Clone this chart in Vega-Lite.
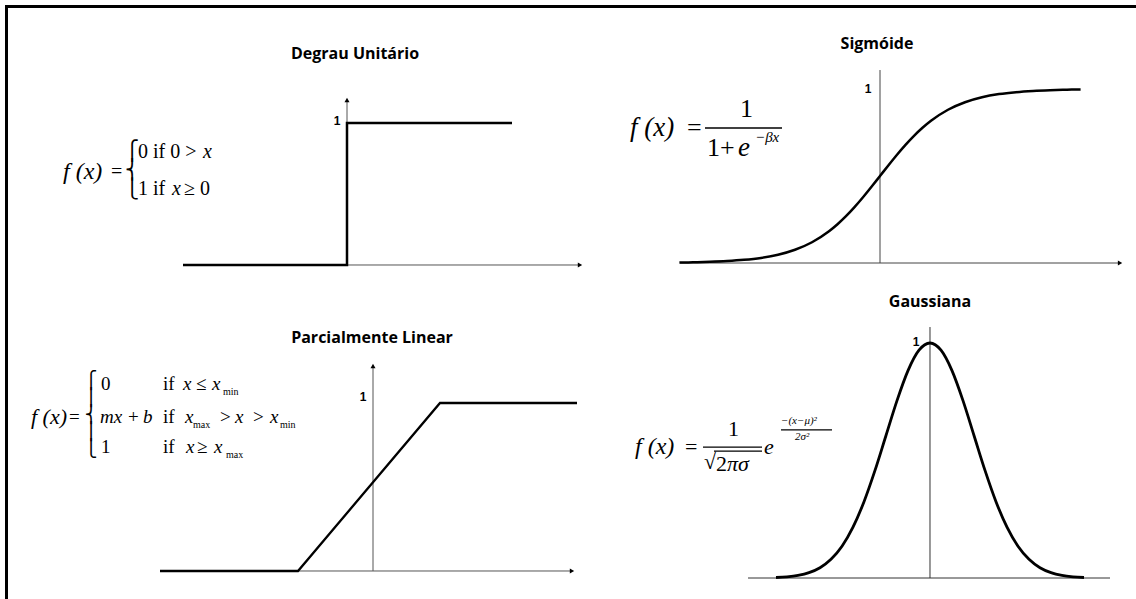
{
  "$schema": "https://vega.github.io/schema/vega-lite/v6.json",
  "padding": 0,
  "spacing": 0,
  "background": "white",
  "config": {"view": {"stroke": null}, "concat": {"spacing": 0}},
  "vconcat": [
    {
      "spacing": 0,
      "hconcat": [
        {
          "width": 600, "height": 290,
          "encoding": {
            "x": {"field": "x", "type": "quantitative", "scale": {"domain": [-6.94, 5.06], "nice": false, "zero": false}, "axis": null},
            "y": {"field": "y", "type": "quantitative", "scale": {"domain": [-0.17606, 1.8662], "nice": false, "zero": false}, "axis": null}
          },
          "layer": [
            {"data": {"values": [{"x": -6.84, "y": 1.82, "x2": 5.4, "y2": 1.82}, {"x": -6.81, "y": 1.831, "x2": -6.81, "y2": -0.4}]},
             "mark": {"type": "rule", "strokeWidth": 3, "color": "black", "clip": true}, "encoding": {"x2": {"field": "x2"}, "y2": {"field": "y2"}}},
            {"data": {"values": [{"x": -3.28, "y": 0, "x2": 4.66, "y2": 0}, {"x": 0, "y": 0, "x2": 0, "y2": 1.162}]},
             "mark": {"type": "rule", "strokeWidth": 1, "color": "#555"}, "encoding": {"x2": {"field": "x2"}, "y2": {"field": "y2"}}},
            {"data": {"values": [{"x": 4.66, "y": 0, "dir": "right"}, {"x": 0, "y": 1.162, "dir": "up"}]},
             "mark": {"type": "point", "filled": true, "color": "black", "size": 25, "opacity": 1},
             "encoding": {"shape": {"field": "dir", "type": "nominal", "scale": {"domain": ["right", "up"], "range": ["triangle-right", "triangle-up"]}, "legend": null}}},
            {"data": {"values": [{"i": 1, "x": -3.28, "y": 0}, {"i": 2, "x": 0, "y": 0}, {"i": 3, "x": 0, "y": 1}, {"i": 4, "x": 3.3, "y": 1}]},
             "mark": {"type": "line", "strokeWidth": 2.5, "color": "black", "strokeJoin": "miter"}, "encoding": {"order": {"field": "i"}}},
            {"data": {"values": [{"x": 0.16, "y": 1.486, "t": "Degrau Unitário"}]},
             "mark": {"type": "text", "font": "Open Sans", "fontWeight": "bold", "fontSize": 16, "align": "center", "baseline": "middle", "color": "black"}, "encoding": {"text": {"field": "t"}}},
            {"data": {"values": [{"x": -0.2, "y": 1.014, "t": "1"}]},
             "mark": {"type": "text", "font": "Liberation Sans", "fontWeight": "bold", "fontSize": 12, "align": "center", "baseline": "middle", "color": "black"}, "encoding": {"text": {"field": "t"}}},
            {"data": {"values": [{"x": -4.72, "y": 0.655, "t": "="}, {"x": -4.18, "y": 0.796, "t": "0 if 0 >"}, {"x": -4.18, "y": 0.535, "t": "1 if"}, {"x": -3.26, "y": 0.535, "t": "≥ 0"}]},
             "mark": {"type": "text", "font": "Liberation Serif", "fontSize": 20, "align": "left", "baseline": "middle", "color": "black"}, "encoding": {"text": {"field": "t"}}},
            {"data": {"values": [{"x": -2.88, "y": 0.796, "t": "x"}, {"x": -3.5, "y": 0.535, "t": "x"}]},
             "mark": {"type": "text", "font": "Liberation Serif", "fontStyle": "italic", "fontSize": 20, "align": "left", "baseline": "middle", "color": "black"}, "encoding": {"text": {"field": "t"}}},
            {"data": {"values": [{"x": -5.68, "y": 0.655, "t": "f (x)"}]},
             "mark": {"type": "text", "font": "Liberation Serif", "fontStyle": "italic", "fontSize": 24, "align": "left", "baseline": "middle", "color": "black"}, "encoding": {"text": {"field": "t"}}},
            {"data": {"values": [{"x": -4.3, "y": 0.803, "t": "⎧\n⎨\n⎩"}]},
             "mark": {"type": "text", "font": "DejaVu Sans", "fontSize": 19, "lineHeight": 19, "lineBreak": "\n", "align": "center", "baseline": "middle", "color": "black"}, "encoding": {"text": {"field": "t"}}}
          ]
        },
        {
          "width": 536, "height": 290,
          "encoding": {
            "x": {"field": "x", "type": "quantitative", "scale": {"domain": [-8.23529, 7.52941], "nice": false, "zero": false}, "axis": null},
            "y": {"field": "y", "type": "quantitative", "scale": {"domain": [-0.15517, 1.51149], "nice": false, "zero": false}, "axis": null}
          },
          "layer": [
            {"data": {"values": [{"x": -8.6, "y": 1.474, "x2": 7.9, "y2": 1.474}]},
             "mark": {"type": "rule", "strokeWidth": 3, "color": "black", "clip": true}, "encoding": {"x2": {"field": "x2"}, "y2": {"field": "y2"}}},
            {"data": {"values": [{"x": -5.88, "y": 0, "x2": 7.06, "y2": 0}, {"x": 0, "y": 0, "x2": 0, "y2": 1.109}]},
             "mark": {"type": "rule", "strokeWidth": 1, "color": "#444"}, "encoding": {"x2": {"field": "x2"}, "y2": {"field": "y2"}}},
            {"data": {"values": [{"x": 7.06, "y": 0, "dir": "right"}]},
             "mark": {"type": "point", "filled": true, "color": "black", "size": 25, "opacity": 1},
             "encoding": {"shape": {"field": "dir", "type": "nominal", "scale": {"domain": ["right", "up"], "range": ["triangle-right", "triangle-up"]}, "legend": null}}},
            {"data": {"values": [
              {"x": -5.9, "y": 0.0027}, {"x": -5.5, "y": 0.0041}, {"x": -5, "y": 0.0067}, {"x": -4.5, "y": 0.011}, {"x": -4, "y": 0.018},
              {"x": -3.5, "y": 0.0293}, {"x": -3, "y": 0.0474}, {"x": -2.5, "y": 0.0759}, {"x": -2, "y": 0.1192}, {"x": -1.5, "y": 0.1824},
              {"x": -1.25, "y": 0.2227}, {"x": -1, "y": 0.2689}, {"x": -0.75, "y": 0.3208}, {"x": -0.5, "y": 0.3775}, {"x": -0.25, "y": 0.4378},
              {"x": 0, "y": 0.5}, {"x": 0.25, "y": 0.5622}, {"x": 0.5, "y": 0.6225}, {"x": 0.75, "y": 0.6792}, {"x": 1, "y": 0.7311},
              {"x": 1.25, "y": 0.7773}, {"x": 1.5, "y": 0.8176}, {"x": 2, "y": 0.8808}, {"x": 2.5, "y": 0.9241}, {"x": 3, "y": 0.9526},
              {"x": 3.5, "y": 0.9707}, {"x": 4, "y": 0.982}, {"x": 4.5, "y": 0.989}, {"x": 5, "y": 0.9933}, {"x": 5.5, "y": 0.9959}, {"x": 5.9, "y": 0.9973}]},
             "mark": {"type": "line", "strokeWidth": 2.5, "color": "black", "interpolate": "monotone"}},
            {"data": {"values": [{"x": -0.088, "y": 1.259, "t": "Sigmóide"}]},
             "mark": {"type": "text", "font": "Open Sans", "fontWeight": "bold", "fontSize": 16, "align": "center", "baseline": "middle", "color": "black"}, "encoding": {"text": {"field": "t"}}},
            {"data": {"values": [{"x": -0.353, "y": 1.0, "t": "1"}]},
             "mark": {"type": "text", "font": "Liberation Sans", "fontWeight": "bold", "fontSize": 12, "align": "center", "baseline": "middle", "color": "black"}, "encoding": {"text": {"field": "t"}}},
            {"data": {"values": [{"x": -5.676, "y": 0.776, "t": "="}, {"x": -4.118, "y": 0.885, "t": "1"}, {"x": -5.088, "y": 0.661, "t": "1+"}]},
             "mark": {"type": "text", "font": "Liberation Serif", "fontSize": 26, "align": "left", "baseline": "middle", "color": "black"}, "encoding": {"text": {"field": "t"}}},
            {"data": {"values": [{"x": -7.353, "y": 0.776, "t": "f (x)"}, {"x": -4.176, "y": 0.661, "t": "e"}]},
             "mark": {"type": "text", "font": "Liberation Serif", "fontStyle": "italic", "fontSize": 27, "align": "left", "baseline": "middle", "color": "black"}, "encoding": {"text": {"field": "t"}}},
            {"data": {"values": [{"x": -3.676, "y": 0.724, "t": "−βx"}]},
             "mark": {"type": "text", "font": "Liberation Serif", "fontStyle": "italic", "fontSize": 15, "align": "left", "baseline": "middle", "color": "black"}, "encoding": {"text": {"field": "t"}}},
            {"data": {"values": [{"x": -5.147, "y": 0.776, "x2": -2.882, "y2": 0.776}]},
             "mark": {"type": "rule", "strokeWidth": 1.3, "color": "black"}, "encoding": {"x2": {"field": "x2"}, "y2": {"field": "y2"}}}
          ]
        }
      ]
    },
    {
      "spacing": 0,
      "hconcat": [
        {
          "width": 600, "height": 309,
          "encoding": {
            "x": {"field": "x", "type": "quantitative", "scale": {"domain": [-7.46, 4.54], "nice": false, "zero": false}, "axis": null},
            "y": {"field": "y", "type": "quantitative", "scale": {"domain": [-0.16667, 1.67262], "nice": false, "zero": false}, "axis": null}
          },
          "layer": [
            {"data": {"values": [{"x": -7.33, "y": 1.9, "x2": -7.33, "y2": -0.4}]},
             "mark": {"type": "rule", "strokeWidth": 3, "color": "black", "clip": true}, "encoding": {"x2": {"field": "x2"}, "y2": {"field": "y2"}}},
            {"data": {"values": [{"x": -4.26, "y": 0, "x2": 3.98, "y2": 0}, {"x": 0, "y": 0, "x2": 0, "y2": 1.22}]},
             "mark": {"type": "rule", "strokeWidth": 1, "color": "#555"}, "encoding": {"x2": {"field": "x2"}, "y2": {"field": "y2"}}},
            {"data": {"values": [{"x": 3.98, "y": 0, "dir": "right"}, {"x": 0, "y": 1.22, "dir": "up"}]},
             "mark": {"type": "point", "filled": true, "color": "black", "size": 25, "opacity": 1},
             "encoding": {"shape": {"field": "dir", "type": "nominal", "scale": {"domain": ["right", "up"], "range": ["triangle-right", "triangle-up"]}, "legend": null}}},
            {"data": {"values": [{"i": 1, "x": -4.26, "y": 0}, {"i": 2, "x": -1.5, "y": 0}, {"i": 3, "x": 1.34, "y": 1}, {"i": 4, "x": 4.08, "y": 1}]},
             "mark": {"type": "line", "strokeWidth": 2.3, "color": "black"}, "encoding": {"order": {"field": "i"}}},
            {"data": {"values": [{"x": -0.02, "y": 1.387, "t": "Parcialmente Linear"}]},
             "mark": {"type": "text", "font": "Open Sans", "fontWeight": "bold", "fontSize": 16, "align": "center", "baseline": "middle", "color": "black"}, "encoding": {"text": {"field": "t"}}},
            {"data": {"values": [{"x": -0.2, "y": 1.036, "t": "1"}]},
             "mark": {"type": "text", "font": "Liberation Sans", "fontWeight": "bold", "fontSize": 12, "align": "center", "baseline": "middle", "color": "black"}, "encoding": {"text": {"field": "t"}}},
            {"data": {"values": [
              {"x": -6.08, "y": 0.917, "t": "="},
              {"x": -5.44, "y": 1.113, "t": "0"}, {"x": -4.2, "y": 1.113, "t": "if"}, {"x": -3.54, "y": 1.113, "t": "≤"},
              {"x": -4.9, "y": 0.917, "t": "+"}, {"x": -4.2, "y": 0.917, "t": "if"}, {"x": -3.06, "y": 0.917, "t": ">"}, {"x": -2.4, "y": 0.917, "t": ">"},
              {"x": -5.44, "y": 0.738, "t": "1"}, {"x": -4.2, "y": 0.738, "t": "if"}, {"x": -3.52, "y": 0.738, "t": "≥"}]},
             "mark": {"type": "text", "font": "Liberation Serif", "fontSize": 19, "align": "left", "baseline": "middle", "color": "black"}, "encoding": {"text": {"field": "t"}}},
            {"data": {"values": [
              {"x": -3.8, "y": 1.113, "t": "x"}, {"x": -3.22, "y": 1.113, "t": "x"},
              {"x": -5.46, "y": 0.917, "t": "mx"}, {"x": -4.6, "y": 0.917, "t": "b"}, {"x": -3.76, "y": 0.917, "t": "x"}, {"x": -2.76, "y": 0.917, "t": "x"}, {"x": -2.06, "y": 0.917, "t": "x"},
              {"x": -3.74, "y": 0.738, "t": "x"}, {"x": -3.18, "y": 0.738, "t": "x"}]},
             "mark": {"type": "text", "font": "Liberation Serif", "fontStyle": "italic", "fontSize": 19, "align": "left", "baseline": "middle", "color": "black"}, "encoding": {"text": {"field": "t"}}},
            {"data": {"values": [{"x": -6.84, "y": 0.917, "t": "f (x)"}]},
             "mark": {"type": "text", "font": "Liberation Serif", "fontStyle": "italic", "fontSize": 22, "align": "left", "baseline": "middle", "color": "black"}, "encoding": {"text": {"field": "t"}}},
            {"data": {"values": [{"x": -3.0, "y": 1.065, "t": "min"}, {"x": -3.6, "y": 0.869, "t": "max"}, {"x": -1.86, "y": 0.869, "t": "min"}, {"x": -2.94, "y": 0.69, "t": "max"}]},
             "mark": {"type": "text", "font": "Liberation Serif", "fontSize": 10, "align": "left", "baseline": "middle", "color": "black"}, "encoding": {"text": {"field": "t"}}},
            {"data": {"values": [{"x": -5.64, "y": 1.131, "t": "⎧\n⎪\n⎨\n⎪\n⎩"}]},
             "mark": {"type": "text", "font": "DejaVu Sans", "fontSize": 17, "lineHeight": 17, "lineBreak": "\n", "align": "center", "baseline": "middle", "color": "black"}, "encoding": {"text": {"field": "t"}}}
          ]
        },
        {
          "width": 536, "height": 309,
          "encoding": {
            "x": {"field": "x", "type": "quantitative", "scale": {"domain": [-7.5, 4.68182], "nice": false, "zero": false}, "axis": null},
            "y": {"field": "y", "type": "quantitative", "scale": {"domain": [-0.08936, 1.22553], "nice": false, "zero": false}, "axis": null}
          },
          "layer": [
            {"data": {"values": [{"x": -4.136, "y": 0, "x2": 4.091, "y2": 0}, {"x": 0, "y": 0, "x2": 0, "y2": 1.068}]},
             "mark": {"type": "rule", "strokeWidth": 1, "color": "#333"}, "encoding": {"x2": {"field": "x2"}, "y2": {"field": "y2"}}},
            {"data": {"values": [
              {"x": -3.5, "y": 0.0022}, {"x": -3.25, "y": 0.0051}, {"x": -3, "y": 0.0111}, {"x": -2.75, "y": 0.0228}, {"x": -2.5, "y": 0.0439},
              {"x": -2.25, "y": 0.0796}, {"x": -2, "y": 0.1353}, {"x": -1.75, "y": 0.2163}, {"x": -1.5, "y": 0.3247}, {"x": -1.25, "y": 0.4578},
              {"x": -1, "y": 0.6065}, {"x": -0.75, "y": 0.7548}, {"x": -0.5, "y": 0.8825}, {"x": -0.25, "y": 0.9692}, {"x": 0, "y": 1},
              {"x": 0.25, "y": 0.9692}, {"x": 0.5, "y": 0.8825}, {"x": 0.75, "y": 0.7548}, {"x": 1, "y": 0.6065}, {"x": 1.25, "y": 0.4578},
              {"x": 1.5, "y": 0.3247}, {"x": 1.75, "y": 0.2163}, {"x": 2, "y": 0.1353}, {"x": 2.25, "y": 0.0796}, {"x": 2.5, "y": 0.0439},
              {"x": 2.75, "y": 0.0228}, {"x": 3, "y": 0.0111}, {"x": 3.25, "y": 0.0051}, {"x": 3.5, "y": 0.0022}]},
             "mark": {"type": "line", "strokeWidth": 2.8, "color": "black", "interpolate": "monotone"}},
            {"data": {"values": [{"x": 0, "y": 1.174, "t": "Gaussiana"}]},
             "mark": {"type": "text", "font": "Open Sans", "fontWeight": "bold", "fontSize": 16, "align": "center", "baseline": "middle", "color": "black"}, "encoding": {"text": {"field": "t"}}},
            {"data": {"values": [{"x": -0.318, "y": 1.004, "t": "1"}]},
             "mark": {"type": "text", "font": "Liberation Sans", "fontWeight": "bold", "fontSize": 12, "align": "center", "baseline": "middle", "color": "black"}, "encoding": {"text": {"field": "t"}}},
            {"data": {"values": [{"x": -5.568, "y": 0.557, "t": "="}, {"x": -4.591, "y": 0.634, "t": "1"}, {"x": -5.136, "y": 0.494, "t": "√"}, {"x": -4.864, "y": 0.485, "t": "2"}]},
             "mark": {"type": "text", "font": "Liberation Serif", "fontSize": 22, "align": "left", "baseline": "middle", "color": "black"}, "encoding": {"text": {"field": "t"}}},
            {"data": {"values": [{"x": -4.614, "y": 0.485, "t": "πσ"}, {"x": -3.773, "y": 0.557, "t": "e"}]},
             "mark": {"type": "text", "font": "Liberation Serif", "fontStyle": "italic", "fontSize": 22, "align": "left", "baseline": "middle", "color": "black"}, "encoding": {"text": {"field": "t"}}},
            {"data": {"values": [{"x": -6.705, "y": 0.557, "t": "f (x)"}]},
             "mark": {"type": "text", "font": "Liberation Serif", "fontStyle": "italic", "fontSize": 24, "align": "left", "baseline": "middle", "color": "black"}, "encoding": {"text": {"field": "t"}}},
            {"data": {"values": [{"x": -3.386, "y": 0.668, "t": "−(x−μ)²"}, {"x": -3.068, "y": 0.6, "t": "2σ²"}]},
             "mark": {"type": "text", "font": "Liberation Serif", "fontStyle": "italic", "fontSize": 11, "align": "left", "baseline": "middle", "color": "black"}, "encoding": {"text": {"field": "t"}}},
            {"data": {"values": [{"x": -5.159, "y": 0.557, "x2": -3.818, "y2": 0.557}, {"x": -4.909, "y": 0.54, "x2": -3.818, "y2": 0.54}, {"x": -3.386, "y": 0.63, "x2": -2.227, "y2": 0.63}]},
             "mark": {"type": "rule", "strokeWidth": 1.2, "color": "black"}, "encoding": {"x2": {"field": "x2"}, "y2": {"field": "y2"}}}
          ]
        }
      ]
    }
  ]
}
